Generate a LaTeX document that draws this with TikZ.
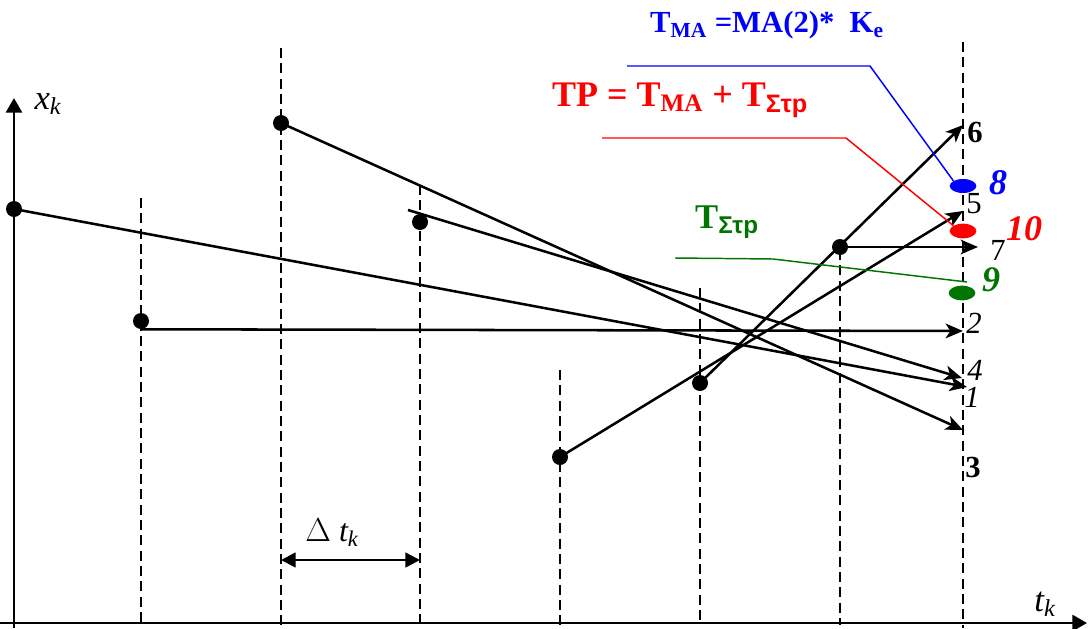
\documentclass[tikz,border=0pt]{standalone}
\usepackage{fontspec}
\setmainfont{Liberation Serif}
\newfontfamily\subsans{Liberation Sans}
\usetikzlibrary{arrows.meta, shapes.geometric, positioning}
\definecolor{MAblue}{RGB}{0,0,255}
\definecolor{TPred}{RGB}{255,0,0}
\definecolor{TSgreen}{RGB}{0,118,0}

\tikzset{
  ptdot/.style={circle, fill=black, inner sep=0pt, minimum size=12pt},
  tickline/.style={line width=2.2pt, dash pattern=on 7.5pt off 4pt},
  trendline/.style={line width=1.9pt, -{Stealth[length=13pt,width=11pt,inset=3.5pt]}},
  axisline/.style={line width=2.2pt, -{Triangle[length=11pt,width=12pt]}},
  numlabel/.style={inner sep=0pt, font=\fontsize{23}{23}\selectfont},
  marker/.style={ellipse, inner sep=0pt, minimum width=20pt, minimum height=10.5pt},
  callout/.style={line width=1.1pt}
}
\newcommand{\sub}[1]{\textsubscript{#1}}
\newcommand{\subS}{\textsubscript{\subsans\bfseries Στр}}

\begin{document}
\begin{tikzpicture}[x=0.75pt, y=-0.75pt]
  \useasboundingbox (0,0) rectangle (1088,628);
  % axes
  \coordinate (o) at (14,623);
  \coordinate (xend) at (1087,623);
  \coordinate (yend) at (14,98);
  \draw[axisline] (0,623) -- (xend);
  \draw[axisline] (14,628) -- (yend);
  \node[font=\fontsize{26}{26}\selectfont\itshape] (xk) at (48,104) {x\sub{k}};
  \node[font=\fontsize{26}{26}\selectfont\itshape] (tk) at (1045,604) {t\sub{k}};

  % time steps
  \draw[tickline] (141,198) -- (141,625);
  \draw[tickline] (281,48) -- (281,625);
  \draw[tickline] (420,185) -- (420,625);
  \draw[tickline] (560,370) -- (560,625);
  \draw[tickline] (700,288) -- (700,625);
  \draw[tickline] (840,250) -- (840,625);
  \draw[tickline] (963,42) -- (963,628);

  % observations
  \node[ptdot] (p0) at (14,209) {};
  \node[ptdot] (p1) at (141,321) {};
  \node[ptdot] (p2) at (281,123) {};
  \node[ptdot] (p3) at (420,222) {};
  \node[ptdot] (p4) at (560,457) {};
  \node[ptdot] (p5) at (700,383) {};
  \node[ptdot] (p6) at (840,247) {};

  % forecast ends
  \coordinate (e1) at (967,387);
  \coordinate (e2) at (963,331);
  \coordinate (e3) at (963,430);
  \coordinate (e4) at (962,378);
  \coordinate (e5) at (963,211);
  \coordinate (e6) at (963,125);
  \coordinate (e7) at (978,247);
  \coordinate (s3) at (408,210);

  \draw[trendline] (p0.center) -- (e1);
  \draw[trendline] (p1.south) -- (e2);
  \draw[trendline] (p2.center) -- (e3);
  \draw[trendline] (s3) -- (e4);
  \draw[trendline] (p4.center) -- (e5);
  \draw[trendline] (p5.center) -- (e6);
  \draw[trendline] (p6.center) -- (e7);

  \node[numlabel, font=\fontsize{23}{23}\selectfont\itshape] (n1) at (972,397) {1};
  \node[numlabel, font=\fontsize{23}{23}\selectfont\itshape] (n2) at (974,323) {2};
  \node[numlabel, font=\fontsize{23}{23}\selectfont\bfseries] (n3) at (973,467) {3};
  \node[numlabel, font=\fontsize{23}{23}\selectfont\itshape] (n4) at (975,370) {4};
  \node[numlabel] (n5) at (974,204) {5};
  \node[numlabel, font=\fontsize{23}{23}\selectfont\bfseries] (n6) at (975,132) {6};
  \node[numlabel] (n7) at (998,250) {7};

  % step
  \coordinate (d1) at (281,560);
  \coordinate (d2) at (420,560);
  \draw[line width=1.9pt, {Triangle[length=11pt,width=11pt]}-{Triangle[length=11pt,width=11pt]}] (d1) -- (d2);
  \node[font=\fontsize{24}{24}\selectfont] (dt) at (332,533) {$\Delta$ \textit{t\sub{k}}};

  % estimates
  \node[marker, fill=MAblue] (m8) at (963,186) {};
  \node[marker, fill=TPred, minimum height=11pt] (m10) at (963,231) {};
  \node[marker, fill=TSgreen, minimum height=11pt] (m9) at (962,293) {};
  \node[MAblue, inner sep=0pt, font=\fontsize{27}{27}\selectfont\bfseries\itshape] (l8) at (998,183) {8};
  \node[TPred, inner sep=0pt, font=\fontsize{27}{27}\selectfont\bfseries\itshape] (l10) at (1024,229) {10};
  \node[TSgreen, inner sep=0pt, font=\fontsize{27}{27}\selectfont\bfseries\itshape] (l9) at (991,280) {9};

  \node[MAblue, font=\fontsize{23}{23}\selectfont\bfseries] (tma) at (767,25) {T\sub{MA} =MA(2)*\ \ K\sub{e}};
  \node[TPred, font=\fontsize{27}{27}\selectfont\bfseries] (tp) at (680,100) {TP = T\sub{MA} + T\subS};
  \node[TSgreen, font=\fontsize{26}{26}\selectfont\bfseries] (tsig) at (727,222) {T\subS};

  \coordinate (b1) at (627,66);
  \coordinate (b2) at (870,66);
  \coordinate (r1) at (602,138);
  \coordinate (r2) at (846,138);
  \coordinate (g1) at (675,258);
  \coordinate (g2) at (773,259);
  \coordinate (g3) at (967,282);
  \draw[callout, MAblue] (b1) -- (b2) -- (m8.north west);
  \draw[callout, TPred] (r1) -- (r2) -- (m10.north west);
  \draw[callout, TSgreen] (g1) -- (g2) -- (g3);
\end{tikzpicture}
\end{document}
